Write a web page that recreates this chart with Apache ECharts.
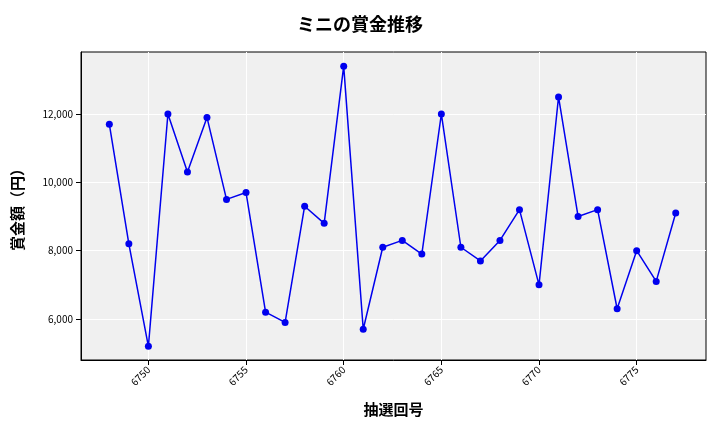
<!DOCTYPE html>
<html><head><meta charset="utf-8">
<script src="https://cdn.jsdelivr.net/npm/echarts@6/dist/echarts.min.js"></script>
<style>html,body{margin:0;padding:0;background:#fff}#c{width:720px;height:432px}</style>
</head><body><div id="c"></div>
<script>
const draws = [6748,6749,6750,6751,6752,6753,6754,6755,6756,6757,6758,6759,6760,6761,6762,6763,6764,6765,6766,6767,6768,6769,6770,6771,6772,6773,6774,6775,6776,6777];
const prizes = [11700,8200,5200,12000,10300,11900,9500,9700,6200,5900,9300,8800,13400,5700,8100,8300,7900,12000,8100,7700,8300,9200,7000,12500,9000,9200,6300,8000,7100,9100];
const xTicks = [6750,6755,6760,6765,6770,6775];
const yTicks = [6000,8000,10000,12000];
const font = '"Noto Sans CJK JP", sans-serif';
const chart = echarts.init(document.getElementById('c'));
chart.setOption({
  animation:false,
  title:{text:'ミニの賞金推移',left:'center',top:10,textStyle:{fontFamily:font,fontSize:18,fontWeight:'bold',color:'#000'}},
  grid:{left:81,right:14,top:52,bottom:72,backgroundColor:'#f0f0f0',show:true,borderWidth:1,borderColor:'#000'},
  xAxis:{type:'value',min:6746.55,max:6778.55,name:'抽選回号',nameLocation:'middle',nameGap:42,
    nameTextStyle:{fontFamily:font,fontSize:15,fontWeight:'bold',color:'#000'},
    axisLine:{show:true,lineStyle:{color:'#000'}},
    axisTick:{show:true,customValues:xTicks,lineStyle:{color:'#000'}},
    axisLabel:{customValues:xTicks,rotate:45,fontSize:10,color:'#000',fontFamily:font,formatter:v=>String(v)},
    splitLine:{show:true,lineStyle:{color:'#fff',width:1}}},
  yAxis:{type:'value',min:4800,max:13814,name:'賞金額（円）',nameLocation:'middle',nameGap:56,
    nameTextStyle:{fontFamily:font,fontSize:15,fontWeight:'bold',color:'#000'},
    axisLine:{show:true,lineStyle:{color:'#000'}},
    axisTick:{show:true,customValues:yTicks,lineStyle:{color:'#000'}},
    axisLabel:{customValues:yTicks,fontSize:10,color:'#000',fontFamily:font,formatter:v=>v.toLocaleString('en-US')},
    splitLine:{show:true,lineStyle:{color:'#fff',width:1}}},
  series:[{type:'line',data:draws.map((d,i)=>[d,prizes[i]]),color:'#0000ee',
    lineStyle:{color:'#0000ee',width:1.5},itemStyle:{color:'#0000ee'},symbol:'circle',symbolSize:7}]
});
</script></body></html>
